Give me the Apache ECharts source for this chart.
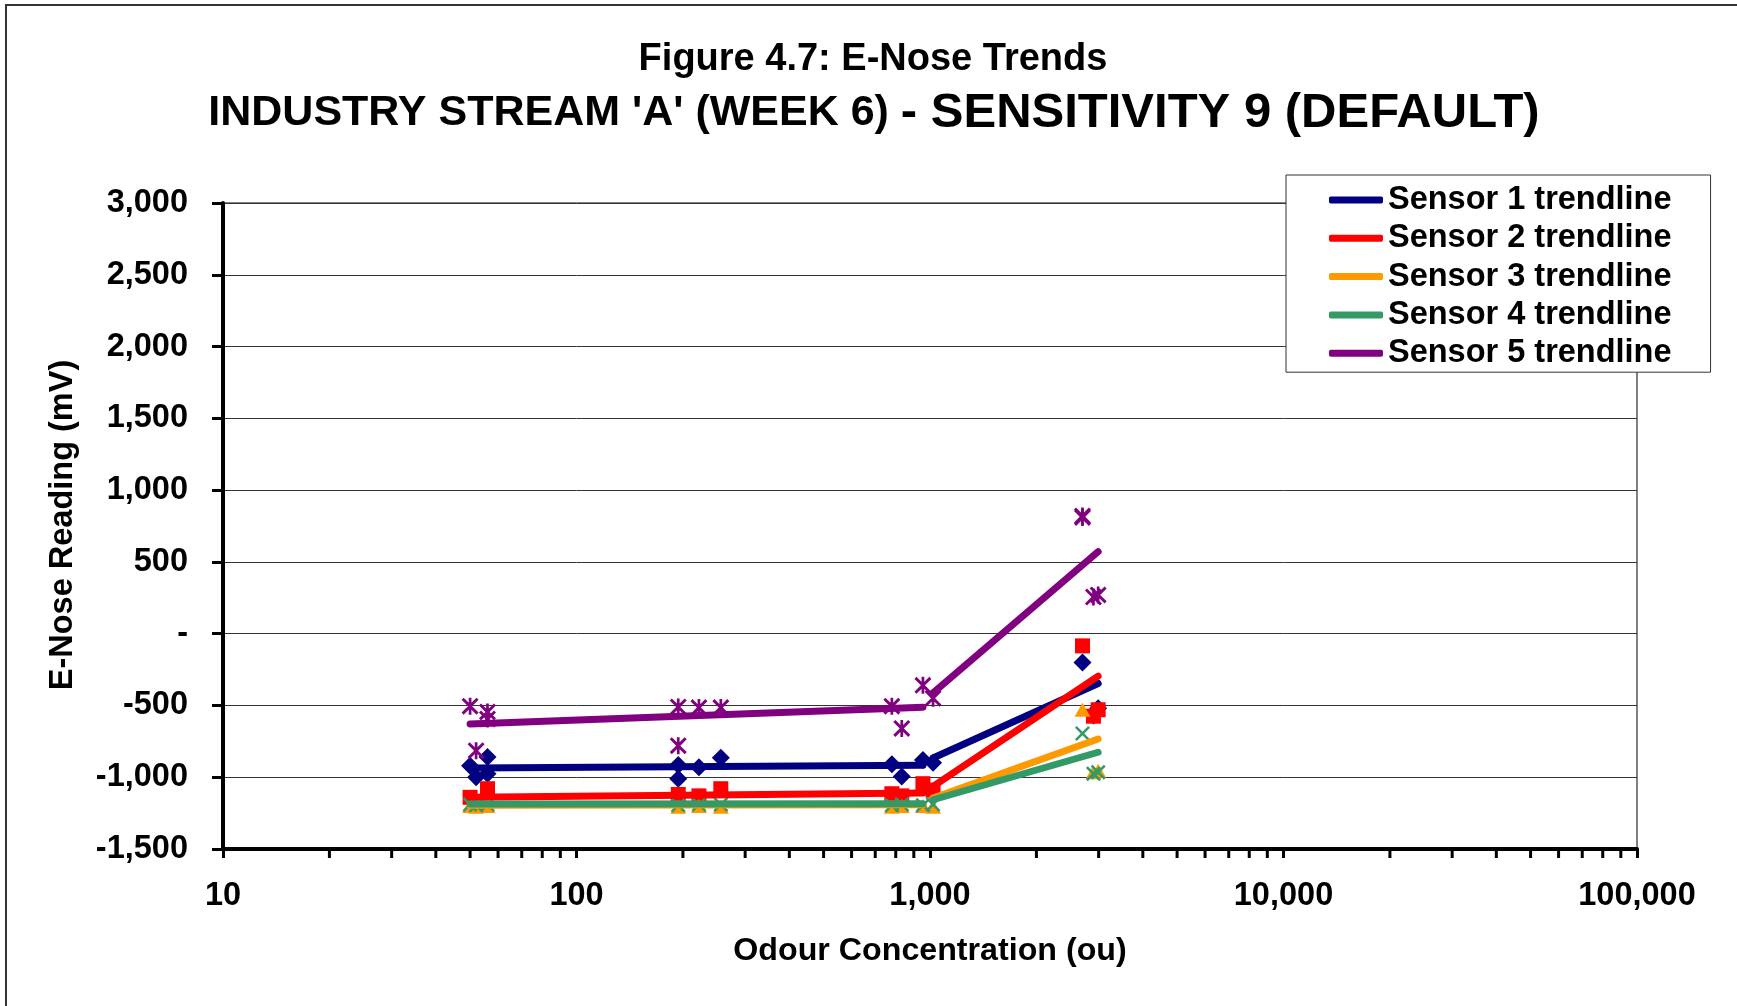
<!DOCTYPE html>
<html><head><meta charset="utf-8">
<script src="https://cdn.jsdelivr.net/npm/echarts/dist/echarts.min.js"></script>
<style>html,body{margin:0;padding:0;background:#fff}#c{width:1737px;height:1006px}</style>
</head><body><div id="c"></div>
<script>
const FONT = '"Liberation Sans", Arial, Helvetica, sans-serif';

// ---- data (x = odour concentration in ou, y = E-Nose reading in mV) ----
const s1Points = [[50,-920],[52,-1000],[56,-860],[56,-975],[194,-915],[194,-1010],[222,-930],[256,-865],[780,-910],[832,-995],[955,-880],[1020,-900],[2700,-200],[2900,-570],[2990,-520]];
const s2Points = [[50,-1140],[56,-1080],[194,-1120],[222,-1130],[256,-1080],[780,-1115],[832,-1130],[955,-1045],[1020,-1090],[2700,-85],[2900,-575],[2990,-530]];
const s3Points = [[50,-1200],[52,-1205],[56,-1200],[194,-1205],[222,-1200],[256,-1205],[780,-1205],[832,-1200],[955,-1200],[1020,-1205],[2700,-530],[2900,-965],[2990,-955]];
const s4Points = [[50,-1190],[52,-1195],[56,-1190],[194,-1195],[222,-1190],[256,-1190],[780,-1195],[832,-1190],[955,-1195],[1020,-1190],[2700,-695],[2900,-975],[2990,-965]];
const s5Points = [[50,-505],[52,-815],[56,-545],[56,-595],[194,-510],[194,-780],[222,-515],[256,-515],[780,-505],[832,-660],[955,-360],[1020,-450],[2700,810],[2700,820],[2900,255],[2990,270]];

const s1TrendLow = [[50,-935],[955,-917]];   const s1TrendHigh = [[1020,-866],[2990,-347]];
const s2TrendLow = [[50,-1140],[955,-1110]]; const s2TrendHigh = [[1020,-1064],[2990,-296]];
const s3TrendLow = [[50,-1195],[955,-1192]]; const s3TrendHigh = [[1020,-1145],[2990,-734]];
const s4TrendLow = [[50,-1187],[955,-1185]]; const s4TrendHigh = [[1020,-1157],[2990,-826]];
const s5TrendLow = [[50,-629],[955,-512]];   const s5TrendHigh = [[1020,-413],[2990,571]];

const trendNames = ['Sensor 1 trendline','Sensor 2 trendline','Sensor 3 trendline','Sensor 4 trendline','Sensor 5 trendline'];
const minorTickValues = [20,30,40,50,60,70,80,90,200,300,400,500,600,700,800,900,2000,3000,4000,5000,6000,7000,8000,9000,20000,30000,40000,50000,60000,70000,80000,90000];
const yMin = -1500, yMax = 3000, yStep = 500;
const xMin = 10, xMax = 100000;

const colors = ['#000080','#FF0000','#FF9900','#339966','#800080'];
const X_PATH = 'path://M0,1.2 L1.2,0 L5,3.8 L8.8,0 L10,1.2 L6.2,5 L10,8.8 L8.8,10 L5,6.2 L1.2,10 L0,8.8 L3.8,5 Z';
const STAR_PATH = 'path://M0,1.2 L1.2,0 L5,3.8 L8.8,0 L10,1.2 L6.2,5 L10,8.8 L8.8,10 L5,6.2 L1.2,10 L0,8.8 L3.8,5 Z M4.2,0 L5.8,0 L5.8,10 L4.2,10 Z';
const symbols = ['diamond','rect','triangle', X_PATH, STAR_PATH];
const symbolSizes = [[18,18],[15,15],[16,14],[15,15],[17,17]];

const pointSets = [s1Points,s2Points,s3Points,s4Points,s5Points];
const lowSets = [s1TrendLow,s2TrendLow,s3TrendLow,s4TrendLow,s5TrendLow];
const highSets = [s1TrendHigh,s2TrendHigh,s3TrendHigh,s4TrendHigh,s5TrendHigh];

const series = [];
pointSets.forEach((pts, i) => {
  series.push({
    name: 'Sensor ' + (i+1), type: 'scatter', data: pts,
    symbol: symbols[i], symbolSize: symbolSizes[i],
    itemStyle: { color: colors[i], opacity: 1 }, z: 2, silent: true
  });
});
[lowSets, highSets].forEach(sets => {
  sets.forEach((d, i) => {
    series.push({
      name: trendNames[i], type: 'line', data: d, symbol: 'none',
      lineStyle: { color: colors[i], width: 7, cap: 'round' },
      itemStyle: { color: colors[i] }, z: 3 + i, silent: true
    });
  });
});
series.push({
  name: 'minorTicks', type: 'scatter', data: minorTickValues.map(v => [v, yMin]),
  symbol: 'rect', symbolSize: [3, 9], symbolOffset: [0, 4.5],
  itemStyle: { color: '#000', opacity: 1 }, clip: false, silent: true, z: 10
});

const fmt = v => Number(v).toLocaleString('en-US');

const chart = echarts.init(document.getElementById('c'), null, { renderer: 'canvas' });
chart.setOption({
  animation: false,
  backgroundColor: '#fff',
  grid: { left: 223, right: 100, top: 203, bottom: 157, show: true, borderColor: '#000', borderWidth: 1, backgroundColor: 'transparent' },
  legend: {
    data: trendNames, orient: 'vertical', left: 1286, top: 175,
    padding: [6, 39, 0, 43], itemGap: 0.3, itemWidth: 54, itemHeight: 7, itemTextGap: 7,
    icon: 'roundRect', borderColor: '#333', borderWidth: 1, backgroundColor: '#fff',
    textStyle: { fontFamily: FONT, fontWeight: 'bold', fontSize: 32.5, color: '#000', lineHeight: 38 },
    selectedMode: false
  },
  xAxis: {
    type: 'log', logBase: 10, min: xMin, max: xMax,
    axisLine: { show: true, onZero: false, lineStyle: { color: '#000', width: 4 } },
    axisTick: { show: true, length: 9, lineStyle: { color: '#000', width: 3 } },
    axisLabel: { margin: 31, fontFamily: FONT, fontWeight: 'bold', fontSize: 32.5, color: '#000', formatter: fmt },
    splitLine: { show: false }, minorTick: { show: false }
  },
  yAxis: {
    type: 'value', min: yMin, max: yMax, interval: yStep,
    axisLine: { show: true, onZero: false, lineStyle: { color: '#000', width: 4 } },
    axisTick: { show: true, length: 11, lineStyle: { color: '#000', width: 3 } },
    axisLabel: { margin: 35, fontFamily: FONT, fontWeight: 'bold', fontSize: 32.5, color: '#000',
      formatter: v => v === 0 ? '-' : fmt(v) },
    splitLine: { show: true, lineStyle: { color: '#333', width: 1 } }
  },
  graphic: [
    { type: 'rect', shape: { x: 6, y: 5, width: 1800, height: 1100 }, style: { fill: 'none', stroke: '#333', lineWidth: 2 }, silent: true, z: -1 },
    { type: 'text', x: 873, y: 60, style: { text: 'Figure 4.7: E-Nose Trends', font: 'bold 38px ' + FONT, fill: '#000', align: 'center', verticalAlign: 'middle' } },
    { type: 'text', x: 874, y: 113, style: {
        text: "{a|INDUSTRY STREAM 'A' (WEEK 6)} {b|- SENSITIVITY 9 (DEFAULT)}",
        align: 'center', verticalAlign: 'middle', fill: '#000',
        rich: { a: { fontFamily: FONT, fontWeight: 'bold', fontSize: 43, fill: '#000' }, b: { fontFamily: FONT, fontWeight: 'bold', fontSize: 49, fill: '#000' } },
        font: 'bold 43px ' + FONT } },
    { type: 'text', x: 63, y: 525, rotation: Math.PI / 2, style: { text: 'E-Nose Reading (mV)', font: 'bold 32.5px ' + FONT, fill: '#000', align: 'center', verticalAlign: 'middle' } },
    { type: 'text', x: 930, y: 951, style: { text: 'Odour Concentration (ou)', font: 'bold 32.2px ' + FONT, fill: '#000', align: 'center', verticalAlign: 'middle' } }
  ],
  series: series
});
</script>
</body></html>
